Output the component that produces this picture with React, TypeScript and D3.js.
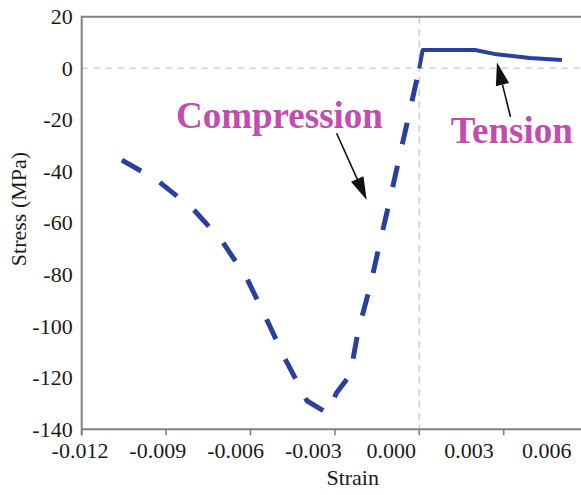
import React from "react";
import * as d3 from "d3";

// ---- data ----
const compressionStrain = [-0.01057, -0.00933, -0.00804, -0.00701, -0.00612, -0.00545, -0.00477, -0.00438, -0.00399, -0.00339, -0.00325, -0.00294, -0.00246, -0.00217, -0.00175, -0.0014, -0.00104, -0.00069, -0.00033, 0.0];
const compressionStress = [-35.6, -43.3, -54.6, -67.0, -81.7, -96.8, -112.7, -120.8, -129.0, -132.9, -133.6, -125.8, -118.9, -101.7, -84.7, -67.6, -50.7, -33.6, -16.2, 0];
const tensionStrain = [0.0, 0.00012, 0.00198, 0.00275, 0.00393, 0.00507];
const tensionStress = [0.0, 7.1, 7.1, 5.4, 4.0, 3.2];
const xTicks = [-0.012, -0.009, -0.006, -0.003, 0.0, 0.003, 0.006];
const xTickLabels = ["-0.012", "-0.009", "-0.006", "-0.003", "0.000", "0.003", "0.006"];
const yTicks = [20, 0, -20, -40, -60, -80, -100, -120, -140];
const annotationLabels = ["Compression", "Tension"];
const annotationTextStrain = [-0.00865, 0.00112];
const annotationTextStress = [-23.3, -29.1];
const arrowTailStrain = [-0.00294, 0.00324];
const arrowTailStress = [-25.2, -18.8];
const arrowTipStrain = [-0.00187, 0.00276];
const arrowTipStress = [-51.1, 2.3];

const W = 581;
const H = 495;

export default function App() {
  const x = d3.scaleLinear().domain([-0.012, 0.006]).range([81.7, 588.1]);
  const xLabel = d3.scaleLinear().domain([-0.012, 0.006]).range([80, 546.7]);
  const y = d3.scaleLinear().domain([-140, 20]).range([429.3, 16.7]);
  const x0 = x.range()[0];
  const yTop = y(20);
  const yBot = y(-140);

  const line = d3
    .line<[number, number]>()
    .x((d) => x(d[0]))
    .y((d) => y(d[1]))
    .curve(d3.curveLinear);

  const comp: [number, number][] = compressionStrain.map((s, i) => [s, compressionStress[i]]);
  const tens: [number, number][] = tensionStrain.map((s, i) => [s, tensionStress[i]]);

  const txt: React.CSSProperties = { fontFamily: '"Liberation Serif", "Times New Roman", serif' };
  const blue = "#2b3f9f";
  const magenta = "#c24db0";
  const axisColor = "#808080";

  const arrows = arrowTailStrain.map((_, i) => {
    const tx = x(arrowTailStrain[i]);
    const ty = y(arrowTailStress[i]);
    const px = x(arrowTipStrain[i]);
    const py = y(arrowTipStress[i]);
    const dx = px - tx;
    const dy = py - ty;
    const len = Math.sqrt(dx * dx + dy * dy);
    const ux = dx / len;
    const uy = dy / len;
    const hl = 23;
    const hw = 6.8;
    const bx = px - ux * hl;
    const by = py - uy * hl;
    const pts = [
      [px, py],
      [bx - uy * hw, by + ux * hw],
      [bx + uy * hw, by - ux * hw],
    ];
    return { tx, ty, bx, by, pts };
  });

  return (
    <svg width={W} height={H} style={{ position: "absolute", left: 0, top: 0, background: "#fff" }}>
      {/* reference lines */}
      <line x1={x0} x2={W} y1={y(0)} y2={y(0)} stroke="#d0d0d0" strokeWidth={1.6} strokeDasharray="6,6" />
      <line x1={x(0)} x2={x(0)} y1={yTop} y2={yBot} stroke="#d0d0d0" strokeWidth={1.6} strokeDasharray="7,5" />

      {/* axes */}
      <line x1={x0} x2={W} y1={yTop} y2={yTop} stroke={axisColor} strokeWidth={2} />
      <line x1={x0} x2={W} y1={yBot} y2={yBot} stroke={axisColor} strokeWidth={2} />
      <line x1={x0} x2={x0} y1={yTop - 1} y2={yBot + 6} stroke={axisColor} strokeWidth={2} />
      {xTicks.map((t) => (
        <line key={"xt" + t} x1={x(t)} x2={x(t)} y1={yBot} y2={yBot + 6} stroke={axisColor} strokeWidth={1.6} />
      ))}

      {/* tick labels */}
      {xTicks.map((t, i) => (
        <text key={"xl" + t} x={xLabel(t)} y={458} textAnchor="middle" style={txt} fontSize={22} fill="#1a1a1a">
          {xTickLabels[i]}
        </text>
      ))}
      {yTicks.map((t) => (
        <text key={"yl" + t} x={72.7} y={y(t)} dy="0.34em" textAnchor="end" style={txt} fontSize={22} fill="#1a1a1a">
          {t}
        </text>
      ))}

      {/* axis titles */}
      <text x={352.7} y={485} textAnchor="middle" style={txt} fontSize={22} fill="#1a1a1a">
        Strain
      </text>
      <text transform={`translate(26,209) rotate(-90)`} textAnchor="middle" style={txt} fontSize={22} fill="#1a1a1a">
        Stress (MPa)
      </text>

      {/* data */}
      <path d={line(comp) || ""} fill="none" stroke={blue} strokeWidth={5} strokeDasharray="22,22" />
      <path d={line(tens) || ""} fill="none" stroke={blue} strokeWidth={4} strokeLinejoin="round" />

      {/* annotations */}
      {annotationLabels.map((lab, i) => (
        <text
          key={lab}
          x={x(annotationTextStrain[i])}
          y={y(annotationTextStress[i])}
          style={txt}
          fontWeight="bold"
          fontSize={37}
          fill={magenta}
        >
          {lab}
        </text>
      ))}
      {arrows.map((a, i) => (
        <g key={"ar" + i}>
          <line x1={a.tx} y1={a.ty} x2={a.bx} y2={a.by} stroke="#111" strokeWidth={1.6} />
          <polygon points={a.pts.map((p) => p.join(",")).join(" ")} fill="#111" />
        </g>
      ))}
    </svg>
  );
}
